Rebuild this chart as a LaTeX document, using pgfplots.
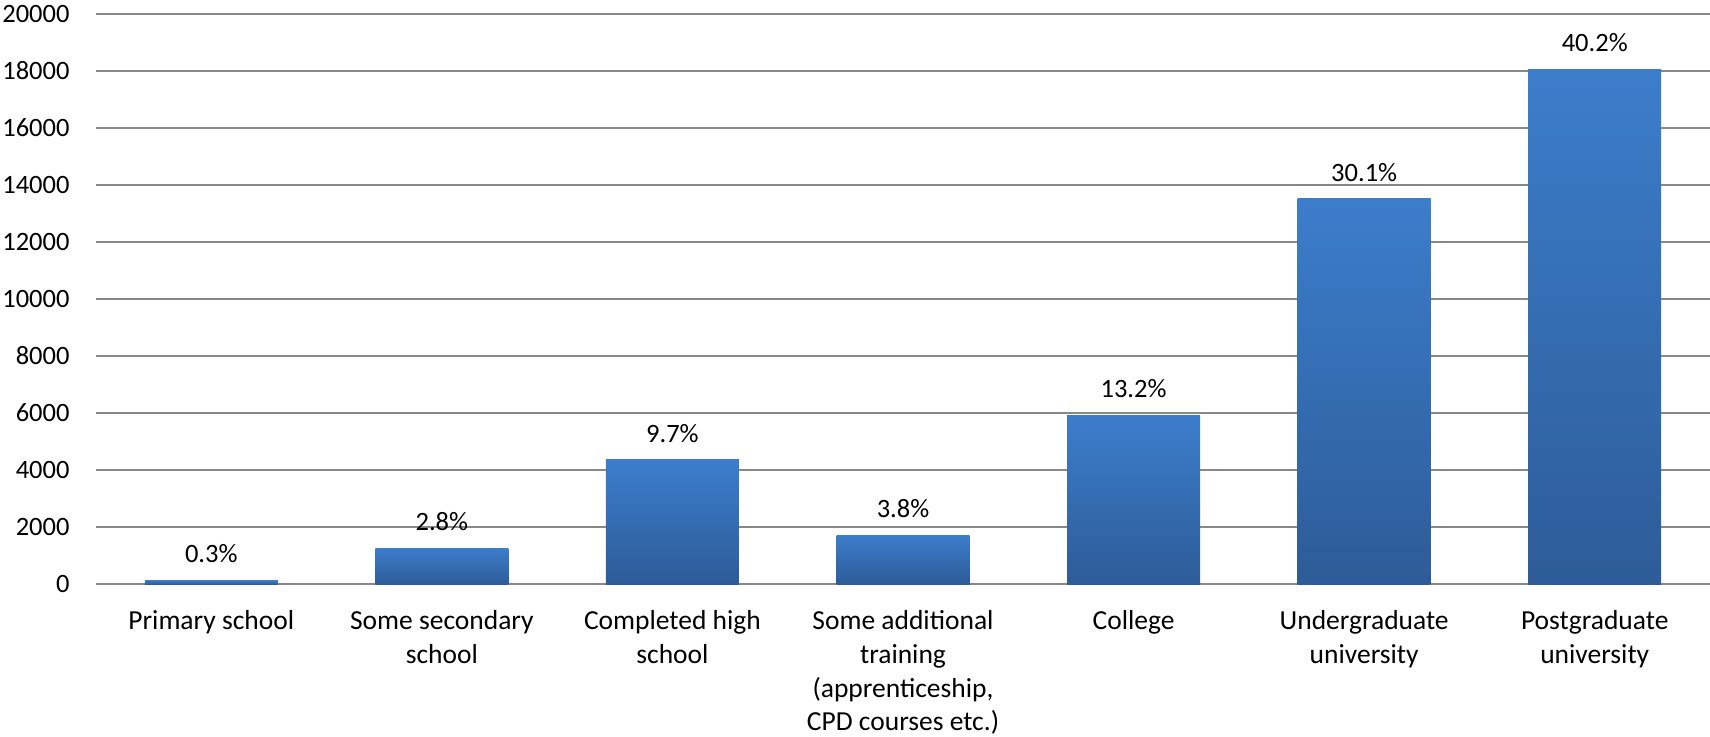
\documentclass[border=0pt]{standalone}
\usepackage{fontspec}
\setmainfont{Carlito}
\usepackage{pgfplots}
\pgfplotsset{compat=1.18}
\definecolor{barTop}{RGB}{60,125,203}
\definecolor{barBot}{RGB}{45,92,152}
\definecolor{gridc}{RGB}{136,136,136}
\pgfplotsset{barstyle/.style={bar width=53.2pt, bar shift=0pt, draw=none, top color=barTop, bottom color=barBot}}
\begin{document}
\begin{tikzpicture}[font=\fontsize{10.6pt}{14pt}\selectfont]
\begin{axis}[
  name=ax,
  scale only axis, width=645.6pt, height=228pt,
  ybar,
  xmin=-0.5, xmax=6.5, ymin=0, ymax=20000,
  ytick={0,2000,...,20000},
  scaled y ticks=false,
  xtick={0,...,6},
  xticklabels={{Primary school},{Some secondary\\school},{Completed high\\school},{Some additional\\training\\(apprenticeship,\\CPD courses etc.)},{College},{Undergraduate\\university},{Postgraduate\\university}},
  ymajorgrids, grid style={gridc, line width=0.8pt},
  axis line style={draw=none}, major tick length=0pt,
  /pgf/number format/1000 sep={}, /pgf/number format/assume math mode=true,
  yticklabel style={inner sep=0pt, anchor=east, xshift=-10.4pt},
  xticklabel style={inner sep=0pt, anchor=north, yshift=-10.4pt, align=center, font=\fontsize{11pt}{13.5pt}\selectfont},
  point meta=explicit symbolic,
  nodes near coords={\pgfplotspointmeta\%},
  every node near coord/.append style={anchor=center, yshift=10.6pt, inner sep=0pt, text=black},
  clip=false,
]
\addplot[barstyle] table[x=x,y=y,meta=p]{
x y p
0 135 0.3
};
\addplot[barstyle] table[x=x,y=y,meta=p]{
x y p
1 1257 2.8
};
\addplot[barstyle] table[x=x,y=y,meta=p]{
x y p
2 4356 9.7
};
\addplot[barstyle] table[x=x,y=y,meta=p]{
x y p
3 1707 3.8
};
\addplot[barstyle] table[x=x,y=y,meta=p]{
x y p
4 5928 13.2
};
\addplot[barstyle] table[x=x,y=y,meta=p]{
x y p
5 13517 30.1
};
\addplot[barstyle] table[x=x,y=y,meta=p]{
x y p
6 18053 40.2
};
\end{axis}
\pgfresetboundingbox
\path ([xshift=-38.4pt, yshift=-60.8pt]ax.south west) rectangle ([yshift=5.6pt]ax.north east);
\end{tikzpicture}
\end{document}
